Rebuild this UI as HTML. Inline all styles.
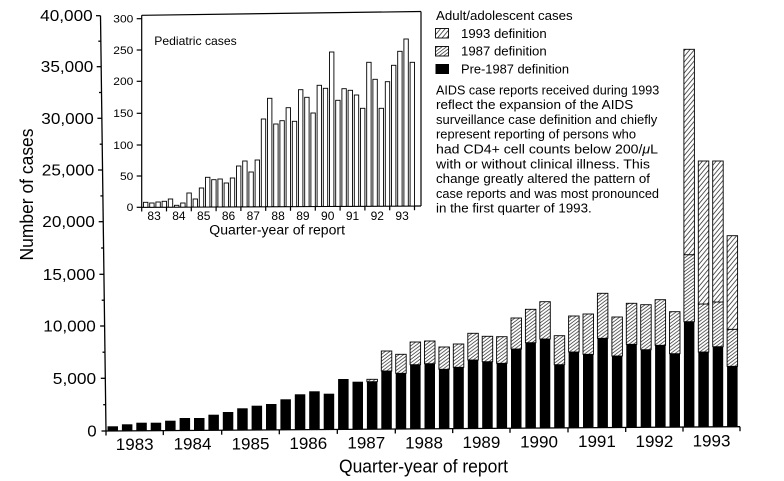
<!DOCTYPE html>
<html><head><meta charset="utf-8"><style>html,body{margin:0;padding:0;background:#fff;}svg{display:block;}</style></head>
<body>
<svg width="784" height="481" viewBox="0 0 784 481" xmlns="http://www.w3.org/2000/svg" font-family="'Liberation Sans', sans-serif" fill="#000">
<defs>
<pattern id="p93" patternUnits="userSpaceOnUse" width="4.6" height="5.5">
<rect width="4.6" height="5.5" fill="#fff"/>
<path d="M-4.6,11 L9.2,-5.5 M-4.6,5.5 L4.6,-5.5 M0,11 L9.2,0" stroke="#333" stroke-width="0.8" fill="none"/>
</pattern>
<pattern id="p87" patternUnits="userSpaceOnUse" width="4.5" height="3.4">
<rect width="4.5" height="3.4" fill="#fff"/>
<path d="M-4.5,6.8 L9,-3.4 M-4.5,3.4 L4.5,-3.4 M0,6.8 L9,0" stroke="#333" stroke-width="0.7" fill="none"/>
</pattern>
</defs>
<rect width="784" height="481" fill="#fff"/>

<!-- Main axes -->
<g stroke="#000" stroke-width="1.3" fill="none">
<line x1="100.5" y1="15.7" x2="106" y2="431"/>
<line x1="106" y1="431" x2="740" y2="426.7"/>
<!-- major y ticks -->
<line x1="96" y1="15.7" x2="100.5" y2="15.7"/>
<line x1="96.7" y1="66.7" x2="101.2" y2="66.7"/>
<line x1="97.4" y1="118.3" x2="101.9" y2="118.3"/>
<line x1="98" y1="170" x2="102.5" y2="170"/>
<line x1="98.7" y1="221.7" x2="103.2" y2="221.7"/>
<line x1="99.4" y1="274.3" x2="103.9" y2="274.3"/>
<line x1="100.1" y1="326" x2="104.6" y2="326"/>
<line x1="100.8" y1="378.3" x2="105.3" y2="378.3"/>
<line x1="101.5" y1="431" x2="106" y2="431"/>
<!-- minor y ticks -->
<line x1="98.3" y1="41.2" x2="100.8" y2="41.2"/>
<line x1="99" y1="92.5" x2="101.5" y2="92.5"/>
<line x1="99.7" y1="144.2" x2="102.2" y2="144.2"/>
<line x1="100.4" y1="195.9" x2="102.9" y2="195.9"/>
<line x1="101.1" y1="248" x2="103.6" y2="248"/>
<line x1="101.7" y1="300.2" x2="104.2" y2="300.2"/>
<line x1="102.5" y1="352.2" x2="105" y2="352.2"/>
<line x1="103.2" y1="404.7" x2="105.7" y2="404.7"/>
<!-- x ticks -->
<line x1="106" y1="431" x2="106" y2="435.5"/>
<line x1="163.3" y1="430.6" x2="163.3" y2="435.1"/>
<line x1="221.7" y1="430.2" x2="221.7" y2="434.7"/>
<line x1="279.3" y1="429.8" x2="279.3" y2="434.3"/>
<line x1="337.3" y1="429.4" x2="337.3" y2="433.9"/>
<line x1="395.3" y1="429" x2="395.3" y2="433.5"/>
<line x1="452.7" y1="428.6" x2="452.7" y2="433.1"/>
<line x1="510" y1="428.3" x2="510" y2="432.8"/>
<line x1="568" y1="427.9" x2="568" y2="432.4"/>
<line x1="625.7" y1="427.5" x2="625.7" y2="432"/>
<line x1="683" y1="427.1" x2="683" y2="431.6"/>
<line x1="740" y1="426.7" x2="740" y2="431.2"/>
</g>

<!-- Main y labels -->
<g font-size="16" text-anchor="end">
<text x="92.7" y="21.2" textLength="52.5" lengthAdjust="spacingAndGlyphs">40,000</text>
<text x="93.3" y="72.2" textLength="52.5" lengthAdjust="spacingAndGlyphs">35,000</text>
<text x="93.8" y="123.8" textLength="52.5" lengthAdjust="spacingAndGlyphs">30,000</text>
<text x="94.3" y="175.5" textLength="52.5" lengthAdjust="spacingAndGlyphs">25,000</text>
<text x="94.8" y="227.2" textLength="52.5" lengthAdjust="spacingAndGlyphs">20,000</text>
<text x="95.3" y="279.8" textLength="52.5" lengthAdjust="spacingAndGlyphs">15,000</text>
<text x="95.8" y="331.5" textLength="52.5" lengthAdjust="spacingAndGlyphs">10,000</text>
<text x="96.2" y="383.8" textLength="43.4" lengthAdjust="spacingAndGlyphs">5,000</text>
<text x="96.7" y="436.5" textLength="9.4" lengthAdjust="spacingAndGlyphs">0</text>
</g>

<!-- Main x labels -->
<g font-size="17" text-anchor="middle">
<text x="134.7" y="450">1983</text>
<text x="192.5" y="449.6">1984</text>
<text x="250.5" y="449.3">1985</text>
<text x="308.3" y="449">1986</text>
<text x="366.3" y="448.6">1987</text>
<text x="424" y="448.3">1988</text>
<text x="481.4" y="447.9">1989</text>
<text x="539" y="447.6">1990</text>
<text x="596.9" y="447.2">1991</text>
<text x="654.4" y="446.9">1992</text>
<text x="711.5" y="446.5">1993</text>
</g>
<text x="339" y="472.5" font-size="18" textLength="169" lengthAdjust="spacingAndGlyphs">Quarter-year of report</text>
<text transform="translate(33,194.5) rotate(-90)" font-size="18" text-anchor="middle" textLength="132" lengthAdjust="spacingAndGlyphs">Number of cases</text>

<!-- Main black bars -->
<g fill="#000">
<rect x="107.5" y="426.3" width="10.5" height="4.65"/>
<rect x="121.9" y="424.3" width="10.5" height="6.55"/>
<rect x="136.3" y="422.7" width="10.5" height="8.05"/>
<rect x="150.7" y="422.7" width="10.5" height="7.96"/>
<rect x="165.1" y="420.7" width="10.5" height="9.86"/>
<rect x="179.6" y="418" width="10.5" height="12.46"/>
<rect x="194.0" y="418" width="10.5" height="12.36"/>
<rect x="208.4" y="414.7" width="10.5" height="15.57"/>
<rect x="222.8" y="412" width="10.5" height="18.17"/>
<rect x="237.2" y="408.3" width="10.5" height="21.77"/>
<rect x="251.6" y="405.7" width="10.5" height="24.28"/>
<rect x="266.0" y="404" width="10.5" height="25.88"/>
<rect x="280.4" y="399.3" width="10.5" height="30.48"/>
<rect x="294.8" y="394.3" width="10.5" height="35.38"/>
<rect x="309.2" y="391.3" width="10.5" height="38.28"/>
<rect x="323.7" y="393.7" width="10.5" height="35.78"/>
<rect x="338.1" y="379" width="10.5" height="50.39"/>
<rect x="352.5" y="381.7" width="10.5" height="47.59"/>
<rect x="366.9" y="381.7" width="10.5" height="47.49"/>
<rect x="381.3" y="371" width="10.5" height="58.09"/>
<rect x="395.7" y="373.3" width="10.5" height="55.69"/>
<rect x="410.1" y="364.7" width="10.5" height="64.2"/>
<rect x="424.5" y="363.7" width="10.5" height="65.1"/>
<rect x="438.9" y="369.3" width="10.5" height="59.4"/>
<rect x="453.3" y="367.3" width="10.5" height="61.3"/>
<rect x="467.8" y="360" width="10.5" height="68.51"/>
<rect x="482.2" y="361.7" width="10.5" height="66.71"/>
<rect x="496.6" y="363.3" width="10.5" height="65.01"/>
<rect x="511.0" y="349" width="10.5" height="79.21"/>
<rect x="525.4" y="342.7" width="10.5" height="85.42"/>
<rect x="539.8" y="339" width="10.5" height="89.02"/>
<rect x="554.2" y="364.7" width="10.5" height="63.22"/>
<rect x="568.6" y="352" width="10.5" height="75.82"/>
<rect x="583.0" y="354.3" width="10.5" height="73.43"/>
<rect x="597.4" y="338.3" width="10.5" height="89.33"/>
<rect x="611.9" y="356" width="10.5" height="71.53"/>
<rect x="626.3" y="344.3" width="10.5" height="83.13"/>
<rect x="640.7" y="349.7" width="10.5" height="77.63"/>
<rect x="655.1" y="345.3" width="10.5" height="81.94"/>
<rect x="669.5" y="353.7" width="10.5" height="73.44"/>
<rect x="683.9" y="321.7" width="10.5" height="105.34"/>
<rect x="698.3" y="352" width="10.5" height="74.94"/>
<rect x="712.7" y="346.7" width="10.5" height="80.15"/>
<rect x="727.1" y="366.3" width="10.5" height="60.45"/>
</g>

<!-- 1987 hatch segments -->
<g fill="url(#p87)" stroke="#000" stroke-width="0.9">
<rect x="366.9" y="379.3" width="10.5" height="2.4"/>
<rect x="381.3" y="351" width="10.5" height="20"/>
<rect x="395.7" y="354.3" width="10.5" height="19"/>
<rect x="410.1" y="342" width="10.5" height="22.7"/>
<rect x="424.5" y="341" width="10.5" height="22.7"/>
<rect x="438.9" y="347" width="10.5" height="22.3"/>
<rect x="453.3" y="344" width="10.5" height="23.3"/>
<rect x="467.8" y="333.3" width="10.5" height="26.7"/>
<rect x="482.2" y="336.3" width="10.5" height="25.4"/>
<rect x="496.6" y="336.7" width="10.5" height="26.6"/>
<rect x="511.0" y="318" width="10.5" height="31"/>
<rect x="525.4" y="309.3" width="10.5" height="33.4"/>
<rect x="539.8" y="301.7" width="10.5" height="37.3"/>
<rect x="554.2" y="335.7" width="10.5" height="29"/>
<rect x="568.6" y="316" width="10.5" height="36"/>
<rect x="583.0" y="314" width="10.5" height="40.3"/>
<rect x="597.4" y="293.3" width="10.5" height="45"/>
<rect x="611.9" y="317" width="10.5" height="39"/>
<rect x="626.3" y="303.3" width="10.5" height="41"/>
<rect x="640.7" y="304.7" width="10.5" height="45"/>
<rect x="655.1" y="299.7" width="10.5" height="45.6"/>
<rect x="669.5" y="311.7" width="10.5" height="42"/>
<rect x="683.9" y="254.7" width="10.5" height="67"/>
<rect x="698.3" y="304" width="10.5" height="48"/>
<rect x="712.7" y="302" width="10.5" height="44.7"/>
<rect x="727.1" y="329.3" width="10.5" height="37"/>
</g>

<!-- 1993 hatch segments -->
<g fill="url(#p93)" stroke="#000" stroke-width="0.9">
<rect x="683.9" y="49.3" width="10.5" height="205.4"/>
<rect x="698.3" y="161" width="10.5" height="143"/>
<rect x="712.7" y="161" width="10.5" height="141"/>
<rect x="727.1" y="235.7" width="10.5" height="93.6"/>
</g>

<!-- Inset frame -->
<g stroke="#000" stroke-width="1.2" fill="none">
<line x1="141.7" y1="15.3" x2="141.7" y2="207.3"/>
<line x1="141.7" y1="15.3" x2="421" y2="11.5"/>
<line x1="421" y1="11.5" x2="421" y2="206"/>
<line x1="141.7" y1="207.3" x2="421" y2="206"/>
<!-- inset y ticks -->
<line x1="136.7" y1="18.7" x2="141.7" y2="18.7"/>
<line x1="136.7" y1="50" x2="141.7" y2="50"/>
<line x1="136.7" y1="81.3" x2="141.7" y2="81.3"/>
<line x1="136.7" y1="113.3" x2="141.7" y2="113.3"/>
<line x1="136.7" y1="145" x2="141.7" y2="145"/>
<line x1="136.7" y1="176" x2="141.7" y2="176"/>
<line x1="136.7" y1="207.3" x2="141.7" y2="207.3"/>
<!-- inset x ticks -->
<line x1="141.7" y1="207.3" x2="141.7" y2="211.5"/>
<line x1="166.5" y1="207.2" x2="166.5" y2="211.4"/>
<line x1="191.3" y1="207.1" x2="191.3" y2="211.3"/>
<line x1="216.1" y1="207" x2="216.1" y2="211.2"/>
<line x1="240.9" y1="206.8" x2="240.9" y2="211"/>
<line x1="265.7" y1="206.7" x2="265.7" y2="210.9"/>
<line x1="290.5" y1="206.6" x2="290.5" y2="210.8"/>
<line x1="315.3" y1="206.5" x2="315.3" y2="210.7"/>
<line x1="340.1" y1="206.4" x2="340.1" y2="210.6"/>
<line x1="364.9" y1="206.3" x2="364.9" y2="210.5"/>
<line x1="389.7" y1="206.1" x2="389.7" y2="210.3"/>
<line x1="414.5" y1="206" x2="414.5" y2="210.2"/>
</g>

<!-- Inset bars -->
<g fill="#fff" stroke="#000" stroke-width="0.9">
<rect x="143.5" y="202.3" width="4.4" height="4.98"/>
<rect x="149.7" y="203" width="4.4" height="4.25"/>
<rect x="155.9" y="202" width="4.4" height="5.22"/>
<rect x="162.1" y="201.3" width="4.4" height="5.89"/>
<rect x="168.3" y="199" width="4.4" height="8.16"/>
<rect x="174.5" y="205.3" width="4.4" height="1.84"/>
<rect x="180.7" y="203" width="4.4" height="4.11"/>
<rect x="186.9" y="193" width="4.4" height="14.08"/>
<rect x="193.1" y="199" width="4.4" height="8.05"/>
<rect x="199.3" y="188" width="4.4" height="19.02"/>
<rect x="205.5" y="177.3" width="4.4" height="29.69"/>
<rect x="211.7" y="179.7" width="4.4" height="27.26"/>
<rect x="217.9" y="179" width="4.4" height="27.93"/>
<rect x="224.1" y="183" width="4.4" height="23.9"/>
<rect x="230.3" y="178" width="4.4" height="28.88"/>
<rect x="236.5" y="166" width="4.4" height="40.85"/>
<rect x="242.7" y="161" width="4.4" height="45.82"/>
<rect x="248.9" y="172" width="4.4" height="34.79"/>
<rect x="255.1" y="160" width="4.4" height="46.76"/>
<rect x="261.3" y="119" width="4.4" height="87.73"/>
<rect x="267.5" y="98.3" width="4.4" height="108.4"/>
<rect x="273.7" y="124" width="4.4" height="82.67"/>
<rect x="279.9" y="120.7" width="4.4" height="85.94"/>
<rect x="286.1" y="107.7" width="4.4" height="98.92"/>
<rect x="292.3" y="121.3" width="4.4" height="85.29"/>
<rect x="298.5" y="89.7" width="4.4" height="116.86"/>
<rect x="304.7" y="97.3" width="4.4" height="109.23"/>
<rect x="310.9" y="113" width="4.4" height="93.5"/>
<rect x="317.1" y="85.3" width="4.4" height="121.17"/>
<rect x="323.3" y="88.3" width="4.4" height="118.14"/>
<rect x="329.5" y="52" width="4.4" height="154.41"/>
<rect x="335.7" y="100.3" width="4.4" height="106.08"/>
<rect x="341.9" y="88.7" width="4.4" height="117.66"/>
<rect x="348.1" y="90.3" width="4.4" height="116.03"/>
<rect x="354.3" y="95" width="4.4" height="111.3"/>
<rect x="360.5" y="108.3" width="4.4" height="97.97"/>
<rect x="366.7" y="62.3" width="4.4" height="143.94"/>
<rect x="372.9" y="79.3" width="4.4" height="126.91"/>
<rect x="379.1" y="108.3" width="4.4" height="97.88"/>
<rect x="385.3" y="81.7" width="4.4" height="124.45"/>
<rect x="391.5" y="65.3" width="4.4" height="140.82"/>
<rect x="397.7" y="51.3" width="4.4" height="154.8"/>
<rect x="403.9" y="39" width="4.4" height="167.07"/>
<rect x="410.1" y="62.3" width="4.4" height="143.74"/>
</g>

<!-- Inset labels -->
<g font-size="11" text-anchor="end">
<text x="133.3" y="22.5" textLength="20" lengthAdjust="spacingAndGlyphs">300</text>
<text x="133.3" y="53.8" textLength="20" lengthAdjust="spacingAndGlyphs">250</text>
<text x="133.3" y="85.1" textLength="20" lengthAdjust="spacingAndGlyphs">200</text>
<text x="133.3" y="117.1" textLength="20" lengthAdjust="spacingAndGlyphs">150</text>
<text x="133.3" y="148.8" textLength="20" lengthAdjust="spacingAndGlyphs">100</text>
<text x="133.3" y="179.8" textLength="13.3" lengthAdjust="spacingAndGlyphs">50</text>
<text x="133.3" y="211.1" textLength="6.7" lengthAdjust="spacingAndGlyphs">0</text>
</g>
<g font-size="12" text-anchor="middle">
<text x="154.1" y="220">83</text>
<text x="178.9" y="220">84</text>
<text x="203.7" y="220">85</text>
<text x="228.5" y="220">86</text>
<text x="253.3" y="220">87</text>
<text x="278.1" y="220">88</text>
<text x="302.9" y="220">89</text>
<text x="327.7" y="220">90</text>
<text x="352.5" y="220">91</text>
<text x="377.3" y="220">92</text>
<text x="402.1" y="220">93</text>
</g>
<text x="209.3" y="234.5" font-size="13.5" textLength="135.7" lengthAdjust="spacingAndGlyphs">Quarter-year of report</text>
<text x="154.3" y="44.8" font-size="12" textLength="82.4" lengthAdjust="spacingAndGlyphs">Pediatric cases</text>

<!-- Legend -->
<text x="436" y="20" font-size="12.5" textLength="136.7" lengthAdjust="spacingAndGlyphs">Adult/adolescent cases</text>
<rect x="435.5" y="28.5" width="13" height="9.5" fill="url(#p93)" stroke="#000" stroke-width="0.9"/>
<text x="461" y="37.8" font-size="12.5" textLength="85.7" lengthAdjust="spacingAndGlyphs">1993 definition</text>
<rect x="435.5" y="46.5" width="13" height="9.5" fill="url(#p87)" stroke="#000" stroke-width="0.9"/>
<text x="461" y="55.5" font-size="12.5" textLength="85.7" lengthAdjust="spacingAndGlyphs">1987 definition</text>
<rect x="435.5" y="64" width="13.5" height="10" fill="#000"/>
<text x="461" y="73.5" font-size="12.5" textLength="108" lengthAdjust="spacingAndGlyphs">Pre-1987 definition</text>

<g font-size="12.5">
<text x="436" y="94.3" textLength="223.3" lengthAdjust="spacingAndGlyphs">AIDS case reports received during 1993</text>
<text x="436" y="109.1" textLength="197.3" lengthAdjust="spacingAndGlyphs">reflect the expansion of the AIDS</text>
<text x="436" y="123.9" textLength="221.3" lengthAdjust="spacingAndGlyphs">surveillance case definition and chiefly</text>
<text x="436" y="138.7" textLength="200" lengthAdjust="spacingAndGlyphs">represent reporting of persons who</text>
<text x="436" y="153.5" textLength="222" lengthAdjust="spacingAndGlyphs">had CD4+ cell counts below 200/<tspan font-style="italic">μ</tspan>L</text>
<text x="436" y="168.3" textLength="214" lengthAdjust="spacingAndGlyphs">with or without clinical illness. This</text>
<text x="436" y="183.1" textLength="214" lengthAdjust="spacingAndGlyphs">change greatly altered the pattern of</text>
<text x="436" y="197.9" textLength="223" lengthAdjust="spacingAndGlyphs">case reports and was most pronounced</text>
<text x="436" y="212.7" textLength="155.7" lengthAdjust="spacingAndGlyphs">in the first quarter of 1993.</text>
</g>
</svg>
</body></html>
